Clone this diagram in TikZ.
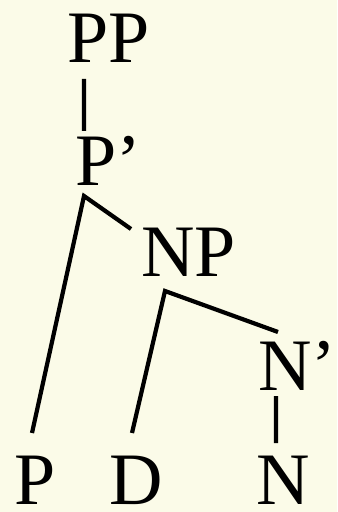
\documentclass[tikz,border=0pt]{standalone}
\usepackage{fontspec}
\setmainfont{Liberation Serif}
\usepackage{xcolor}
\usetikzlibrary{positioning,calc}
\definecolor{paper}{HTML}{FBFBE8}
\definecolor{ink}{HTML}{000000}
\tikzset{
  cat/.style={inner sep=0pt, anchor=base west, text=ink, font=\fontsize{74bp}{80bp}\selectfont},
  edge/.style={draw=ink, line width=4.2bp, line join=miter}
}

\begin{document}
\begin{tikzpicture}[x=1bp,y=-1bp]
\fill[paper] (0,0) rectangle (337,512);
\useasboundingbox (0,0) rectangle (337,512);
% categories
\node[cat] (pp) at (67,63) {PP};
\node[cat] (pbar) at (75,186) {P’};
\node[cat] (np) at (141,276) {NP};
\node[cat] (nbar) at (258,390) {N’};
\node[cat] (p) at (14,504) {P};
\node[cat] (d) at (109,504) {D};
\node[cat] (n) at (256,504) {N};
% branches
\draw[edge] ([xshift=17bp,yshift=-16bp]pp.base west) -- ([xshift=9bp,yshift=55bp]pbar.base west);
\draw[edge] ([xshift=18bp,yshift=71bp]p.base west) -- ([xshift=9bp,yshift=-10bp]pbar.base west) -- ([xshift=-10bp,yshift=47bp]np.base west);
\draw[edge] ([xshift=23bp,yshift=71bp]d.base west) -- ([xshift=24bp,yshift=-15bp]np.base west) -- ([xshift=20bp,yshift=58bp]nbar.base west);
\draw[edge] ([xshift=18bp,yshift=-6bp]nbar.base west) -- ([xshift=20bp,yshift=61bp]n.base west);
\end{tikzpicture}
\end{document}
